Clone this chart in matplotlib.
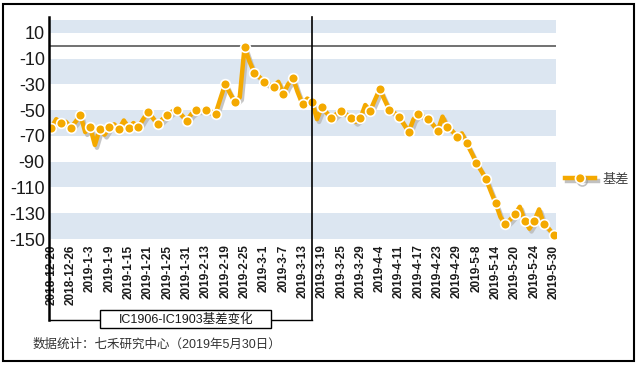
import matplotlib
matplotlib.use("Agg")
import matplotlib.pyplot as plt
import matplotlib.patheffects as pe
from matplotlib.lines import Line2D
from matplotlib.patches import Rectangle
from matplotlib.transforms import blended_transform_factory, ScaledTranslation

plt.rcParams['font.family'] = ['Liberation Sans', 'Noto Sans CJK SC']

# trading days, 2018-12-20 .. 2019-5-30
dates = (
    ["2018-12-%d" % d for d in [20, 21, 24, 25, 26, 27, 28]]
    + ["2019-1-%d" % d for d in [2, 3, 4, 7, 8, 9, 10, 11, 14, 15, 16, 17, 18, 21, 22, 23, 24, 25, 28, 29, 30, 31]]
    + ["2019-2-%d" % d for d in [1, 11, 12, 13, 14, 15, 18, 19, 20, 21, 22, 25, 26, 27, 28]]
    + ["2019-3-%d" % d for d in [1, 4, 5, 6, 7, 8, 11, 12, 13, 14, 15, 18, 19, 20, 21, 22, 25, 26, 27, 28, 29]]
    + ["2019-4-%d" % d for d in [1, 2, 3, 4, 8, 9, 10, 11, 12, 15, 16, 17, 18, 19, 22, 23, 24, 25, 26, 29, 30]]
    + ["2019-5-%d" % d for d in [6, 7, 8, 9, 10, 13, 14, 15, 16, 17, 20, 21, 22, 23, 24, 27, 28, 29, 30]]
)

basis = [
    -63.5, -57, -60, -59, -63.5, -59, -53.7, -67, -62.8, -77,
    -64.6, -69, -63.3, -61, -64.6, -58, -64, -60, -63.3, -57,
    -51.4, -56, -60.9, -57, -53.7, -51, -49.6, -54, -58.1, -53,
    -50, -50, -50, -51, -52.7, -41, -29.6, -37, -43.8, -40,
    -1, -12, -20.8, -24, -27.8, -30, -31.7, -28, -37.4, -30,
    -25.2, -36, -45.4, -41, -43.6, -57, -47.7, -52, -56.3, -53,
    -50.6, -53, -55.8, -59, -56.3, -46, -50.6, -42, -33.7, -42,
    -49.8, -52, -55, -61, -66.7, -57, -52.7, -55, -56.8, -61,
    -66.1, -55, -63.2, -66, -70.5, -68, -75.7, -83, -90.7, -97,
    -103.4, -113, -122.3, -133, -138.6, -135, -130.8, -125, -135.8, -142,
    -135.8, -127, -138.6, -142, -146.9,
]

yticks = [10, -10, -30, -50, -70, -90, -110, -130, -150]
expiry = "2019-3-15"   # IC1903 delivery day
bracket_label = "IC1906-IC1903基差变化"
series_name = "基差"
source = "数据统计：七禾研究中心（2019年5月30日）"

orange = "#F4A900"
band = "#DCE6F1"
W, H = 638, 365

fig = plt.figure(figsize=(W / 100, H / 100), dpi=100)
ax = fig.add_axes([49 / W, 1 - 239 / H, 507 / W, 219 / H])

x = list(range(len(dates)))
# shaded bands every other 20-unit step
for lo in [-150, -110, -70, -30, 10]:
    ax.axhspan(lo, lo + 20, color=band, lw=0, zorder=0)
ax.axhline(0, color="#595959", lw=1.2, zorder=1)

shadow = ax.transData + ScaledTranslation(1.5 / 72, -2.0 / 72, fig.dpi_scale_trans)
ax.plot(x, basis, color="#B8B8B8", lw=3.2, alpha=0.8, transform=shadow, zorder=2,
        solid_joinstyle="round")
ax.plot(x, basis, color=orange, lw=3.2, zorder=3, solid_joinstyle="round",
        marker="o", markevery=2, markersize=7, markerfacecolor=orange,
        markeredgecolor="white", markeredgewidth=1.2)

ax.set_xlim(-0.5, len(dates) - 0.5)
ax.set_ylim(-150, 20)
ax.set_yticks(yticks)
ax.set_yticklabels([str(v) for v in yticks], fontsize=13, color="#1a1a1a")
ax.set_xticks(x[::4])
ax.set_xticklabels(dates[::4], rotation=90, fontsize=8.5, fontweight="bold", color="#1a1a1a")
ax.tick_params(axis="both", length=0)
ax.tick_params(axis="y", pad=3)
ax.tick_params(axis="x", pad=4)
for s in ax.spines.values():
    s.set_visible(False)

# y axis line extends down to the bracket
fig.add_artist(Line2D([49 / W, 49 / W], [1 - 17 / H, 1 - 320 / H], color="black", lw=1.8))

# bracket for the IC1906-IC1903 period
ix = dates.index(expiry)
tr = blended_transform_factory(ax.transData, fig.transFigure)
fig.add_artist(Line2D([ix, ix], [1 - 17 / H, 1 - 320 / H], color="black", lw=1.2, transform=tr))
fig.add_artist(Line2D([-0.5, ix], [1 - 320 / H, 1 - 320 / H], color="black", lw=1.0, transform=tr))
fig.add_artist(Rectangle((100 / W, 1 - 328 / H), 171 / W, 18 / H, facecolor="white",
                         edgecolor="black", lw=1.0, transform=fig.transFigure, zorder=5))
fig.text(186 / W, 1 - 319 / H, bracket_label, ha="center", va="center", fontsize=9,
         color="#1a1a1a", zorder=6)

# legend
proxy = Line2D([], [], color=orange, lw=3.2, marker="o", markersize=7,
               markerfacecolor=orange, markeredgecolor="white", markeredgewidth=1.2,
               path_effects=[pe.SimpleLineShadow(offset=(1.5, -2), shadow_color="#999999", alpha=0.6),
                             pe.Normal()])
leg = ax.legend([proxy], [series_name], loc="center left", bbox_to_anchor=(1.018, 0.27),
                frameon=False, handlelength=2.3, handletextpad=0.5, borderpad=0,
                borderaxespad=0, fontsize=9.5)
for t in leg.get_texts():
    t.set_color("#404040")

fig.text(33 / W, 1 - 345 / H, source, ha="left", va="center", fontsize=9, color="#333333")

# outer frame
fig.add_artist(Rectangle((3 / W, 4 / H), 631 / W, 357 / H, fill=False, edgecolor="black",
                         lw=1.5, transform=fig.transFigure))

fig.savefig("out.png", dpi=100)
